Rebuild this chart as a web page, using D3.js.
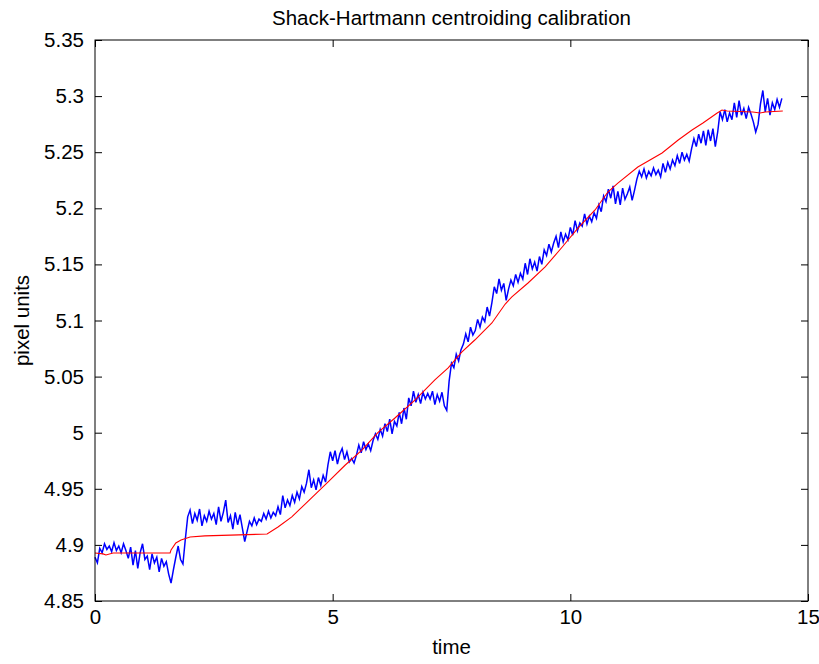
<!DOCTYPE html>
<html lang="en">
	<head>
		<meta charset="utf-8">
		<title>Shack-Hartmann centroiding calibration</title>
		<style>
			body {
				margin: 0;
				background: white;
			}

			text {
				font-family: "Liberation Sans", Arial, sans-serif;
				fill: black;
			}

			.axis path {
				display: none;
			}

			.axis line {
				stroke: black;
			}
		</style>
	</head>
	<body>

		<script src="https://cdn.jsdelivr.net/npm/d3@7"></script>
		<script>
			// Width and Height of the svg, and the edges of the plot box
			var w = 819;
			var h = 664;
			var boxLeft = 95, boxRight = 808, boxTop = 40, boxBottom = 601;

			// DATA

			// measured centroid, sampled every 0.05 s from t = 0
			var blueStart = 0;
			var blueStep = 0.05;
			var blueValues = [
				4.889, 4.884, 4.897, 4.893, 4.901, 4.896, 4.899, 4.894, 4.902, 4.895,
				4.899, 4.893, 4.901, 4.895, 4.888, 4.898, 4.882, 4.895, 4.879, 4.893,
				4.901, 4.887, 4.890, 4.878, 4.892, 4.884, 4.889, 4.876, 4.888, 4.881,
				4.885, 4.874, 4.866, 4.878, 4.889, 4.899, 4.887, 4.883, 4.905, 4.925,
				4.931, 4.919, 4.928, 4.922, 4.932, 4.917, 4.926, 4.921, 4.930, 4.923,
				4.928, 4.918, 4.934, 4.921, 4.929, 4.940, 4.920, 4.926, 4.914, 4.929,
				4.918, 4.927, 4.915, 4.903, 4.912, 4.921, 4.917, 4.924, 4.918, 4.923,
				4.921, 4.928, 4.923, 4.930, 4.924, 4.929, 4.926, 4.934, 4.927, 4.944,
				4.933, 4.940, 4.935, 4.944, 4.938, 4.947, 4.941, 4.952, 4.947, 4.955,
				4.967, 4.951, 4.958, 4.949, 4.960, 4.953, 4.962, 4.956, 4.971, 4.983,
				4.975, 4.984, 4.972, 4.981, 4.986, 4.976, 4.983, 4.974, 4.977, 4.973,
				4.980, 4.989, 4.982, 4.992, 4.985, 4.990, 4.984, 4.993, 4.999, 4.994,
				5.003, 4.997, 5.008, 5.001, 5.012, 4.999, 5.010, 5.006, 5.018, 5.008,
				5.022, 5.012, 5.031, 5.024, 5.037, 5.027, 5.034, 5.026, 5.036, 5.030,
				5.035, 5.030, 5.037, 5.025, 5.034, 5.028, 5.036, 5.024, 5.020, 5.046,
				5.062, 5.058, 5.070, 5.064, 5.074, 5.079, 5.088, 5.081, 5.094, 5.087,
				5.091, 5.101, 5.094, 5.103, 5.099, 5.112, 5.104, 5.116, 5.130, 5.124,
				5.137, 5.127, 5.133, 5.118, 5.128, 5.136, 5.131, 5.141, 5.134, 5.142,
				5.137, 5.151, 5.141, 5.155, 5.146, 5.152, 5.144, 5.157, 5.150, 5.163,
				5.158, 5.168, 5.161, 5.169, 5.175, 5.165, 5.179, 5.170, 5.177, 5.172,
				5.183, 5.176, 5.189, 5.180, 5.187, 5.184, 5.195, 5.186, 5.193, 5.188,
				5.196, 5.191, 5.203, 5.197, 5.211, 5.206, 5.217, 5.209, 5.220, 5.204,
				5.215, 5.203, 5.218, 5.208, 5.213, 5.219, 5.207, 5.216, 5.226, 5.233,
				5.228, 5.235, 5.227, 5.233, 5.229, 5.236, 5.230, 5.234, 5.228, 5.240,
				5.232, 5.241, 5.235, 5.243, 5.238, 5.247, 5.240, 5.250, 5.243, 5.248,
				5.242, 5.253, 5.262, 5.255, 5.266, 5.258, 5.269, 5.256, 5.270, 5.260,
				5.271, 5.255, 5.268, 5.286, 5.279, 5.288, 5.277, 5.285, 5.279, 5.294,
				5.281, 5.296, 5.283, 5.289, 5.280, 5.290, 5.284, 5.277, 5.268, 5.275,
				5.293, 5.305, 5.286, 5.298, 5.283, 5.294, 5.288, 5.297, 5.290, 5.298
			];

			// reference (smooth) curve
			var redTimes = [0, 0.17, 0.23, 0.38, 1.58, 1.6, 1.7, 1.81, 2.0, 2.31,
				3.62, 3.85, 4.14, 4.42, 4.9, 5.26, 5.62, 5.95, 6.31, 6.73,
				7.15, 7.43, 7.72, 7.99, 8.35, 8.63, 8.77, 9.11, 9.47, 9.83,
				10.16, 10.52, 10.79, 11.0, 11.42, 11.93, 12.27, 12.56, 12.79, 13.09,
				13.19, 13.3, 13.84, 13.99, 14.1, 14.47];
			var redValues = [4.8928, 4.892, 4.891, 4.8928, 4.8928, 4.8955, 4.9017, 4.9044, 4.907, 4.908,
				4.9097, 4.916, 4.925, 4.9364, 4.956, 4.971, 4.9846, 5.0, 5.0131, 5.0291,
				5.047, 5.0577, 5.072, 5.0826, 5.0978, 5.1147, 5.121, 5.1334, 5.1477, 5.1655,
				5.1824, 5.1985, 5.2145, 5.2225, 5.2368, 5.2493, 5.2609, 5.2698, 5.276, 5.285,
				5.2876, 5.2867, 5.2858, 5.285, 5.2858, 5.2867];

			var xTicks = [0, 5, 10, 15];
			var yTicks = [4.85, 4.9, 4.95, 5, 5.05, 5.1, 5.15, 5.2, 5.25, 5.3, 5.35];
			var yTickLabels = ["4.85", "4.9", "4.95", "5", "5.05", "5.1", "5.15", "5.2", "5.25", "5.3", "5.35"];


			// SVG

			var svg = d3.select("body").append("svg")
				.attr("width", w)
				.attr("height", h);

			var x = d3.scaleLinear().domain([0, 15]).range([boxLeft, boxRight]);
			var y = d3.scaleLinear().domain([4.85, 5.35]).range([boxBottom, boxTop]);


			// LINES

			var line = d3.line()
				.x(function(d) { return x(d[0]); })
				.y(function(d) { return y(d[1]); });

			var blue = blueValues.map(function(v, i) {
				return [blueStart + i * blueStep, v];
			});
			var red = redValues.map(function(v, i) {
				return [redTimes[i], v];
			});

			svg.append("path")
				.datum(blue)
				.attr("d", line)
				.attr("fill", "none")
				.attr("stroke", "#0000ff")
				.attr("stroke-width", 1.5);

			svg.append("path")
				.datum(red)
				.attr("d", line)
				.attr("fill", "none")
				.attr("stroke", "#ff0000")
				.attr("stroke-width", 1.1);


			// AXES (ticks point inward on all four sides, MATLAB style)

			var fontSize = "20.5px";

			svg.append("g")
				.attr("class", "axis")
				.attr("transform", "translate(0," + boxBottom + ")")
				.call(d3.axisBottom(x).tickValues(xTicks).tickSize(-7).tickPadding(8)
					.tickFormat(d3.format("d")))
				.selectAll("text")
				.style("font-size", fontSize);

			svg.append("g")
				.attr("class", "axis")
				.attr("transform", "translate(0," + boxTop + ")")
				.call(d3.axisTop(x).tickValues(xTicks).tickSize(-7).tickFormat(""));

			svg.append("g")
				.attr("class", "axis")
				.attr("transform", "translate(" + boxLeft + ",0)")
				.call(d3.axisLeft(y).tickValues(yTicks).tickSize(-7).tickPadding(11)
					.tickFormat(function(d, i) { return yTickLabels[i]; }))
				.selectAll("text")
				.style("font-size", fontSize);

			svg.append("g")
				.attr("class", "axis")
				.attr("transform", "translate(" + boxRight + ",0)")
				.call(d3.axisRight(y).tickValues(yTicks).tickSize(-7).tickFormat(""));

			// box
			svg.append("rect")
				.attr("x", boxLeft)
				.attr("y", boxTop)
				.attr("width", boxRight - boxLeft)
				.attr("height", boxBottom - boxTop)
				.attr("fill", "none")
				.attr("stroke", "black")
				.attr("stroke-width", 1);


			// LABELS

			svg.append("text")
				.attr("x", (boxLeft + boxRight) / 2)
				.attr("y", 25)
				.attr("text-anchor", "middle")
				.style("font-size", fontSize)
				.text("Shack-Hartmann centroiding calibration");

			svg.append("text")
				.attr("x", (boxLeft + boxRight) / 2)
				.attr("y", 654)
				.attr("text-anchor", "middle")
				.style("font-size", fontSize)
				.text("time");

			svg.append("text")
				.attr("transform", "translate(29," + ((boxTop + boxBottom) / 2) + ") rotate(-90)")
				.attr("text-anchor", "middle")
				.style("font-size", fontSize)
				.text("pixel units");
		</script>
	</body>
</html>
